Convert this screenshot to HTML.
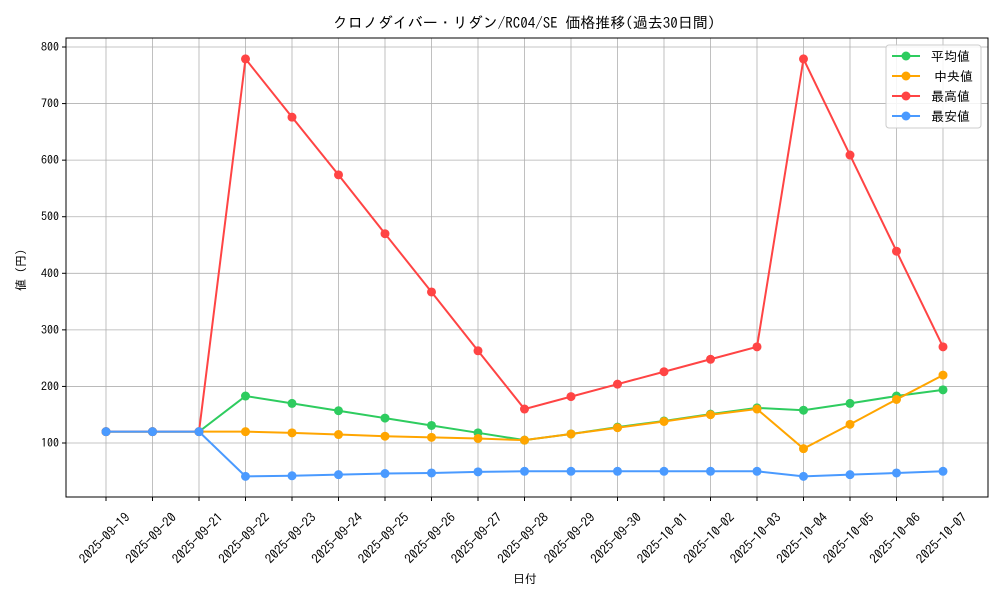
<!DOCTYPE html>
<html><head><meta charset="utf-8"><style>
body{margin:0;background:#fff}
svg text{font-family:"IPAGothic","Noto Sans CJK JP",sans-serif;fill:#000}
</style></head><body>
<svg id="s" width="1000" height="600" xmlns="http://www.w3.org/2000/svg"></svg>
<script>
const s=document.getElementById('s');
let h='';
const L=66,R=988,T=38,B=497;
const X=i=>106+i*46.5, Y=v=>443-(v-100)*0.5657;
h+=`<rect width="1000" height="600" fill="#fff"/>`;
const dates=['2025-09-19','2025-09-20','2025-09-21','2025-09-22','2025-09-23','2025-09-24','2025-09-25','2025-09-26','2025-09-27','2025-09-28','2025-09-29','2025-09-30','2025-10-01','2025-10-02','2025-10-03','2025-10-04','2025-10-05','2025-10-06','2025-10-07'];
dates.forEach((d,i)=>{const x=X(i);h+=`<line x1="${x}" y1="${T}" x2="${x}" y2="${B}" stroke="#b0b0b0" stroke-width="0.8"/><line x1="${x}" y1="${B}" x2="${x}" y2="${B+4}" stroke="#000"/>`;
h+=`<text transform="translate(${x-1.5},${B+41}) rotate(-45)" text-anchor="middle" dy="0.35em" font-size="13">${d}</text>`;});
for(let v=100;v<=800;v+=100){const y=Y(v);h+=`<line x1="${L}" y1="${y}" x2="${R}" y2="${y}" stroke="#b0b0b0" stroke-width="0.8"/><line x1="${L-4}" y1="${y}" x2="${L}" y2="${y}" stroke="#000"/><text x="${L-7}" y="${y+4}" text-anchor="end" font-size="12">${v}</text>`;}
h+=`<rect x="${L}" y="${T}" width="${R-L}" height="${B-T}" fill="none" stroke="#000" stroke-width="1"/>`;
const S=[
['#2ecc5f',[120,120,120,183,170,157,144,131,118,105,116,128,139,151,162,158,170,183,194]],
['#ffa500',[120,120,120,120,118,115,112,110,108,105,116,127,138,150,160,90,133,177,220]],
['#ff4444',[120,120,120,779,676,574,470,367,263,160,182,204,226,248,270,779,609,439,270]],
['#4a9aff',[120,120,120,41,42,44,46,47,49,50,50,50,50,50,50,41,44,47,50]]];
S.forEach(([c,d])=>{h+=`<polyline fill="none" stroke="${c}" stroke-width="2" points="${d.map((v,i)=>X(i)+','+Y(v)).join(' ')}"/>`;
d.forEach((v,i)=>h+=`<circle cx="${X(i)}" cy="${Y(v)}" r="4.5" fill="${c}"/>`);});
h+=`<rect x="886" y="45" width="95" height="83" rx="3" fill="#fff" fill-opacity="0.85" stroke="#ccc"/>`;
['平均値','中央値','最高値','最安値'].forEach((n,i)=>{const y=56+i*20,c=S[i][0];
h+=`<line x1="892" y1="${y}" x2="920" y2="${y}" stroke="${c}" stroke-width="2"/><circle cx="906" cy="${y}" r="4.5" fill="${c}"/><text x="${i==1?934:931}" y="${y+5}" font-size="13">${n}</text>`;});
h+=`<text x="524" y="28" text-anchor="middle" font-size="15">クロノダイバー・リダン/RC04/SE 価格推移(過去30日間)</text>`;
h+=`<text x="525" y="583" text-anchor="middle" font-size="12">日付</text>`;
h+=`<text transform="translate(25,270) rotate(-90)" text-anchor="middle" font-size="12">値 (円)</text>`;
s.innerHTML=h;
</script>
</body></html>
